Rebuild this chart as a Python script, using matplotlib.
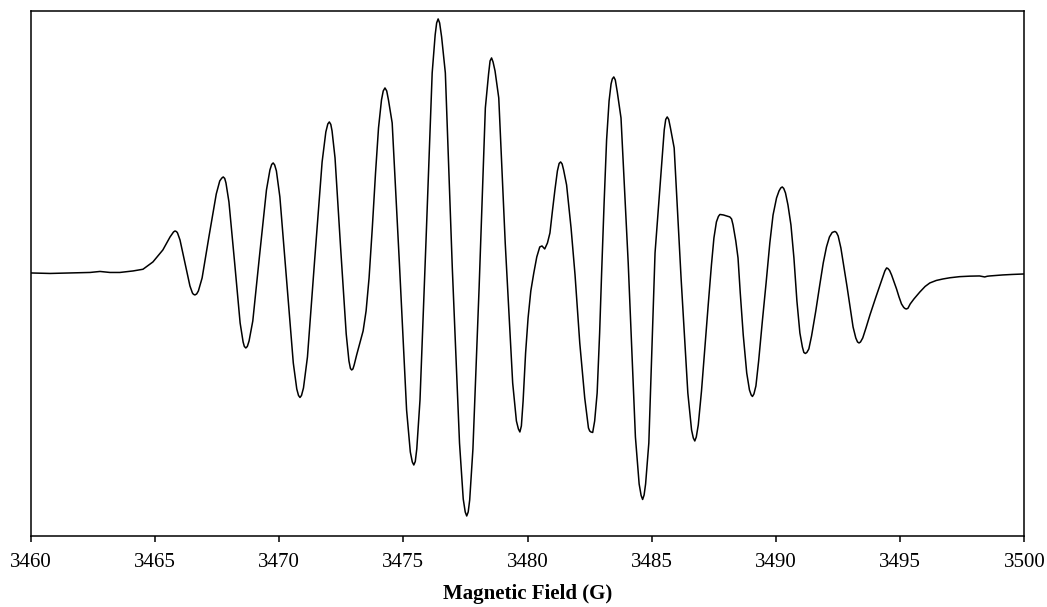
import matplotlib
matplotlib.use('Agg')
import matplotlib.pyplot as plt

# EPR spectrum (field in G, intensity in arbitrary units, baseline = 0)
field = [
    3460.00, 3460.78, 3461.58, 3462.39, 3462.79, 3463.19, 3463.59, 3464.12, 3464.52,
    3464.92, 3465.32, 3465.61, 3465.75, 3465.81, 3465.87,
    3465.91, 3466.01, 3466.21, 3466.41, 3466.51, 3466.55, 3466.61, 3466.68,
    3466.75, 3466.90, 3467.18, 3467.47, 3467.61, 3467.69, 3467.75, 3467.81,
    3467.86, 3467.98, 3468.21, 3468.43, 3468.55, 3468.60, 3468.66, 3468.72,
    3468.79, 3468.94, 3469.21, 3469.49, 3469.63, 3469.70, 3469.76, 3469.82,
    3469.89, 3470.03, 3470.30, 3470.57, 3470.71, 3470.78, 3470.84, 3470.90,
    3470.98, 3471.14, 3471.43, 3471.73, 3471.88, 3471.96, 3472.02, 3472.08,
    3472.13, 3472.25, 3472.47, 3472.70, 3472.81, 3472.87, 3472.92, 3472.97,
    3473.02, 3473.12, 3473.25, 3473.38, 3473.50, 3473.62, 3473.75, 3473.88, 3474.00, 3474.12,
    3474.19, 3474.26, 3474.33,
    3474.40, 3474.55, 3474.84, 3475.13, 3475.28, 3475.36, 3475.42, 3475.48,
    3475.54, 3475.67, 3475.91, 3476.16, 3476.28, 3476.34, 3476.40, 3476.46,
    3476.54, 3476.69, 3476.97, 3477.26, 3477.41, 3477.49, 3477.55, 3477.61,
    3477.67, 3477.80, 3478.05, 3478.30, 3478.43, 3478.49, 3478.55, 3478.61,
    3478.69, 3478.84, 3479.10, 3479.40, 3479.55, 3479.63, 3479.69, 3479.75,
    3479.82, 3479.92, 3480.02, 3480.13, 3480.25, 3480.37, 3480.49, 3480.58, 3480.69, 3480.80,
    3480.90, 3481.00, 3481.10, 3481.20, 3481.27, 3481.33, 3481.39,
    3481.45, 3481.57, 3481.75, 3481.91, 3482.10, 3482.30, 3482.45, 3482.50, 3482.55, 3482.62,
    3482.70, 3482.80, 3482.90, 3482.98, 3483.08, 3483.18, 3483.28, 3483.36, 3483.41, 3483.47, 3483.53,
    3483.61, 3483.76, 3484.05, 3484.34, 3484.49, 3484.57, 3484.63, 3484.69,
    3484.75, 3484.88, 3485.13, 3485.37, 3485.50, 3485.56, 3485.62, 3485.68,
    3485.75, 3485.90, 3486.18, 3486.45, 3486.60, 3486.67, 3486.73, 3486.79,
    3486.87, 3487.00, 3487.15, 3487.27, 3487.40, 3487.50, 3487.60, 3487.68, 3487.74, 3487.88, 3488.01,
    3488.14, 3488.21, 3488.27, 3488.38, 3488.47, 3488.56, 3488.68, 3488.82, 3488.93, 3489.00, 3489.05,
    3489.11, 3489.19, 3489.30, 3489.45, 3489.60, 3489.75, 3489.88, 3490.02, 3490.12, 3490.19, 3490.25,
    3490.31, 3490.38, 3490.48, 3490.60, 3490.72, 3490.84, 3490.96, 3491.06, 3491.12, 3491.18, 3491.24,
    3491.32, 3491.43, 3491.60, 3491.76, 3491.90, 3492.03, 3492.15, 3492.26, 3492.37, 3492.43,
    3492.50, 3492.61, 3492.86, 3493.10, 3493.21, 3493.28, 3493.34, 3493.40,
    3493.49, 3493.62, 3493.78, 3493.90, 3494.02, 3494.16, 3494.29, 3494.38, 3494.45, 3494.50,
    3494.57, 3494.65, 3494.75, 3494.85, 3494.95, 3495.05, 3495.14, 3495.20, 3495.25, 3495.31,
    3495.40, 3495.55, 3495.79, 3496.00, 3496.19, 3496.45, 3496.72, 3497.00, 3497.39,
    3497.80, 3498.19, 3498.30, 3498.40, 3498.50, 3498.60, 3499.12, 3499.50, 3500.00,
]
intensity = [
    0, -0.5, 0, 0.5, 1.5, 0.5, 0.5, 2, 3.7,
    11, 23, 36, 41, 42, 41.3,
    40, 33, 10, -13, -20, -21.3, -22, -21,
    -18, -5, 37, 79, 92, 94.8, 96, 94.5,
    90, 71, 10, -50, -69, -73.5, -75, -73.5,
    -68, -48, 17, 83, 103, 108.5, 110, 108,
    102, 76, -7, -90, -116, -122.5, -124.5, -122.5,
    -115, -84, 13, 111, 141, 149, 151, 148.5,
    142, 115, 27, -61, -88, -95.5, -97, -96,
    -92, -82, -70, -58, -38, -5, 45, 100, 145, 173,
    182, 185, 182,
    173, 150, 10, -137, -179, -189, -192, -188.5,
    -176, -127, 31, 200, 238, 250, 254, 250,
    236, 200, 5, -170, -226, -239, -243, -239,
    -227, -176, -14, 165, 199, 212, 215, 211,
    202, 175, 30, -110, -148, -156, -159, -153,
    -128, -80, -45, -18, 0, 16, 26, 27, 24, 30,
    40, 62, 83, 102, 109.5, 111, 109,
    103, 88, 45, -2, -70, -125, -155, -158, -159, -159.5,
    -148, -120, -60, 0, 70, 133, 172, 189, 194, 196, 193,
    181, 155, 10, -164, -211, -222.5, -226.5, -222,
    -211, -170, 20, 100, 143, 153.5, 156, 153.5,
    145, 125, -6, -120, -157, -165, -168, -164,
    -152, -118, -70, -32, 8, 35, 51, 56.5, 58.5, 58, 57,
    56, 54, 48, 32, 15, -20, -62, -100, -117, -122, -123.5,
    -121, -113, -88, -48, -10, 30, 58, 75, 82, 85, 86,
    84.5, 80, 68, 48, 15, -28, -60, -74, -79.5, -80.5, -79.5,
    -76, -63, -38, -12, 10, 26, 36, 40.5, 41.5, 40.5,
    37, 25, -14, -54, -65, -69, -70, -69,
    -65, -55, -42, -33, -24, -14, -5, 2, 5, 4.5,
    2.5, -2, -9, -16, -24, -31, -34.5, -35.7, -36, -35.3,
    -31, -26, -19, -13.5, -10, -7.5, -6, -4.8, -3.7,
    -3.2, -3, -3.5, -4, -3.3, -3, -2, -1.5, -1,
]
x_ticks = [3460, 3465, 3470, 3475, 3480, 3485, 3490, 3495, 3500]

plt.rcParams['font.family'] = ['Liberation Serif', 'DejaVu Serif']

fig = plt.figure(figsize=(10.47, 6.07), dpi=100)
ax = fig.add_axes([0.0293, 0.117, 0.9492, 0.865])

ax.plot(field, intensity, color='black', lw=1.1, solid_joinstyle='round')

ax.set_xlim(3460, 3500)
ax.set_ylim(-263, 262)
ax.set_xticks(x_ticks)
ax.set_yticks([])
ax.tick_params(axis='x', direction='out', length=4, width=1.1, labelsize=15, pad=8)
for sp in ax.spines.values():
    sp.set_linewidth(1.1)

ax.set_xlabel('Magnetic Field (G)', fontsize=15, fontweight='bold', labelpad=9)

fig.savefig('out.png', dpi=100, facecolor='white')
